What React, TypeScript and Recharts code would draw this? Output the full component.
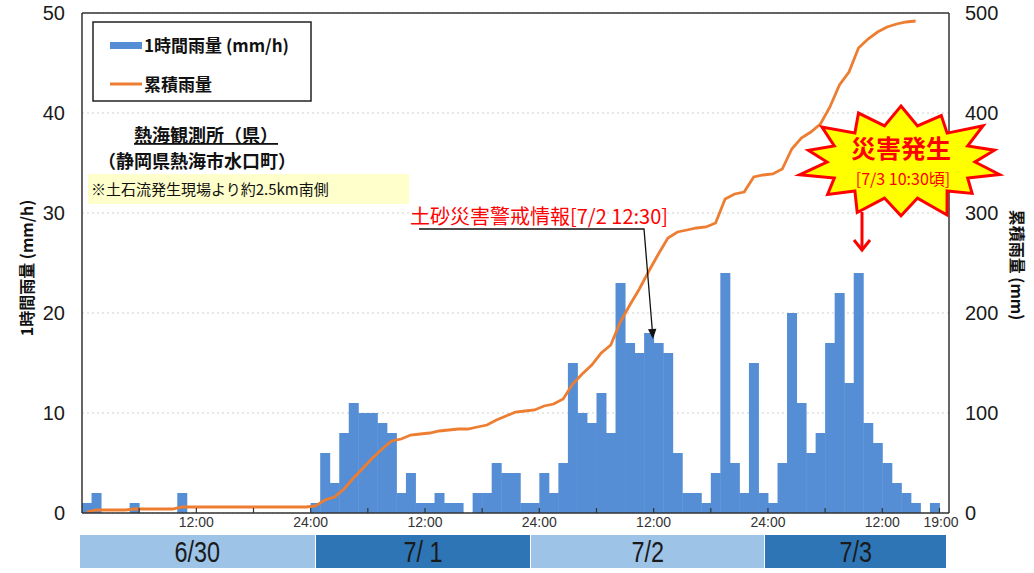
import { Bar, CartesianGrid, ComposedChart, Line, ReferenceLine, XAxis, YAxis } from 'recharts'

// 1時間ごとの雨量 (mm/h)  6/30 1:00 〜 7/3 19:00
const days = ['6/30', '7/1', '7/2', '7/3']
const hoursPerDay = [24, 24, 24, 19]
const dayLabels = ['6/30', '7/ 1', '7/2', '7/3']

const hourlyRain = [
	1, 2, 0, 0, 0, 1, 0, 0, 0, 0, 2, 0, 0, 0, 0, 0, 0, 0, 0, 0, 0, 0, 0, 0,
	1, 6, 3, 8, 11, 10, 10, 9, 8, 2, 4, 1, 1, 2, 1, 1, 0, 2, 2, 5, 4, 4, 1, 1,
	4, 2, 5, 15, 10, 9, 12, 8, 23, 17, 16, 18, 17, 16, 6, 2, 2, 1, 4, 24, 5, 2, 15, 2,
	1, 5, 20, 11, 6, 8, 17, 22, 13, 24, 9, 7, 5, 3, 2, 1, 0, 1, 0,
]

// 累積雨量 (mm)
const totalRain = [
	1, 3, 3, 3, 3, 4, 4, 4, 4, 4, 6, 6, 6, 6, 6, 6, 6, 6, 6, 6, 6, 6, 6, 6,
	7, 13, 16, 24, 35, 45, 55, 64, 72, 74, 78, 79, 80, 82, 83, 84, 84, 86, 88, 93, 97, 101, 102, 103,
	107, 109, 114, 129, 139, 148, 160, 168, 191, 208, 224, 242, 259, 275, 281, 283, 285, 286, 290, 314, 319, 321, 336, 338,
	339, 344, 364, 375, 381, 389, 406, 428, 441, 465, 474, 481, 486, 489, 491, 492, null, null, null,
]

const tickHours = [12, 24, 36, 48, 60, 72, 84, 91]
const tickLabels = ['12:00', '24:00', '12:00', '24:00', '12:00', '24:00', '12:00', '19:00']
const leftTicks = [0, 10, 20, 30, 40, 50]
const rightTicks = [0, 100, 200, 300, 400, 500]

const categories: string[] = []
days.forEach((d, i) => {
	for (let h = 1; h <= hoursPerDay[i]; h++) categories.push(`${d} ${h}時`)
})
const data = categories.map((hour, i) => ({
	hour,
	rain: hourlyRain[i],
	total: totalRain[i],
}))

const W = 1034
const H = 573
const PLOT_L = 82
const PLOT_R = 949
const BAND = (PLOT_R - PLOT_L) / categories.length
const DAY_EDGES = [80, 316, 531, 765, 946]
const JP = '"Noto Sans CJK JP", "Noto Sans", sans-serif'
const NUM = '"Liberation Sans", Arial, sans-serif'

const HourTick = (props: any) => {
	const { x, y, payload } = props
	const end = categories.indexOf(payload.value) + 1
	const k = tickHours.indexOf(end)
	if (end % 6 !== 0 && k < 0) return null
	const bx = x + BAND / 2
	const last = end === categories.length
	return (
		<g>
			{end % 6 === 0 && !last && <line x1={bx} x2={bx} y1={y} y2={y - 5} stroke='#333' strokeWidth={1.2} />}
			{k >= 0 && (
				<text x={last ? bx - 8 : bx} y={y + 14} textAnchor='middle' fontSize={14} fill='#333' fontFamily={NUM}>
					{tickLabels[k]}
				</text>
			)}
		</g>
	)
}

const starPoints = () => {
	const n = 14
	const cx = 901
	const cy = 162
	// 少し不揃いなトゲ
	const jag = [1, 0.92, 1.04, 0.95, 1, 0.9, 1.05, 0.96, 1, 0.93, 1.03, 0.94, 1, 0.97]
	const pts: string[] = []
	for (let i = 0; i < n * 2; i++) {
		const a = -Math.PI / 2 + (i * Math.PI) / n
		const outer = i % 2 === 0
		const f = outer ? jag[i / 2] : 1
		const rx = outer ? 101 * f : 74
		const ry = outer ? 56 * f : 37
		pts.push(`${(cx + rx * Math.cos(a)).toFixed(1)},${(cy + ry * Math.sin(a)).toFixed(1)}`)
	}
	return pts.join(' ')
}

const Overlay = () => (
	<svg width={W} height={H} style={{ position: 'absolute', left: 0, top: 0, pointerEvents: 'none' }}>
		{/* 凡例 */}
		<rect x={93} y={22} width={218} height={79} fill='#fff' stroke='#222' strokeWidth={1.5} />
		<rect x={110} y={42} width={32} height={7} fill='#558ED5' />
		<text x={144} y={52} fontSize={17} fontWeight={700} fontFamily={JP} fill='#111'>
			1時間雨量 (mm/h)
		</text>
		<line x1={110} x2={142} y1={84} y2={84} stroke='#ED7D31' strokeWidth={3} />
		<text x={144} y={91} fontSize={17} fontWeight={700} fontFamily={JP} fill='#111'>
			累積雨量
		</text>

		{/* 観測所 */}
		<text x={206} y={142} textAnchor='middle' fontSize={18} fontWeight={700} fontFamily={JP} fill='#111' style={{ textDecoration: 'underline' }}>
			熱海観測所（県）
		</text>
		<text x={197} y={168} textAnchor='middle' fontSize={18} fontWeight={700} fontFamily={JP} fill='#111'>
			（静岡県熱海市水口町）
		</text>
		<rect x={88} y={174} width={321} height={30} fill='#FFFFCC' />
		<text x={91} y={195} fontSize={15} fontFamily={JP} fill='#111'>
			※土石流発生現場より約2.5km南側
		</text>

		{/* 土砂災害警戒情報 */}
		<text x={410} y={224} fontSize={20} fontFamily={JP} fill='#FF0000'>
			土砂災害警戒情報[7/2 12:30]
		</text>
		<polyline points='419,229 644,229 652.2,329' fill='none' stroke='#111' strokeWidth={1.3} />
		<polygon points='653,339 656.4,328.7 648,329.3' fill='#111' />

		{/* 災害発生 */}
		<polygon points={starPoints()} fill='#FFFF00' stroke='#FF0000' strokeWidth={3} strokeLinejoin='miter' />
		<text x={901} y={158} textAnchor='middle' fontSize={25} fontWeight={700} fontFamily={JP} fill='#FF0000'>
			災害発生
		</text>
		<text x={903} y={185} textAnchor='middle' fontSize={16} fontFamily={JP} fill='#FF0000'>
			[7/3 10:30頃]
		</text>
		<line x1={862} x2={862} y1={212} y2={249} stroke='#FF0000' strokeWidth={3} />
		<polyline points='854,240 862,250 870,240' fill='none' stroke='#FF0000' strokeWidth={3} />

		{/* 軸タイトル */}
		<text x={0} y={0} transform='translate(33,268) rotate(-90)' textAnchor='middle' fontSize={16} fontWeight={700} fontFamily={JP} fill='#111'>
			1時間雨量 (mm/h)
		</text>
		<text x={0} y={0} transform='translate(1011,265) rotate(90)' textAnchor='middle' fontSize={16} fontWeight={700} fontFamily={JP} fill='#111'>
			累積雨量 (mm)
		</text>
	</svg>
)

const DayBand = () => (
	<div style={{ position: 'absolute', left: 0, top: 0, width: W, height: H, pointerEvents: 'none' }}>
		{dayLabels.map((label, i) => (
			<div
				key={label}
				style={{
					position: 'absolute',
					left: DAY_EDGES[i],
					top: 535,
					width: DAY_EDGES[i + 1] - DAY_EDGES[i] - (i < 3 ? 1 : 0),
					height: 33,
					background: i % 2 === 0 ? '#9DC3E6' : '#2E75B6',
					display: 'flex',
					alignItems: 'center',
					justifyContent: 'center',
				}}
			>
				<span
					style={{
						display: 'inline-block',
						transform: 'scaleX(0.78)',
						fontFamily: NUM,
						fontSize: 30,
						lineHeight: '33px',
						color: '#1a1a1a',
						whiteSpace: 'pre',
					}}
				>
					{label}
				</span>
			</div>
		))}
	</div>
)

const App = () => {
	return (
		<div style={{ position: 'absolute', left: 0, top: 0, width: W, height: H, background: '#fff' }}>
			<ComposedChart
				width={W}
				height={H}
				data={data}
				margin={{ top: 13, right: 0, bottom: 40, left: 0 }}
				barCategoryGap={0}
				barGap={0}
			>
				<CartesianGrid
					vertical={false}
					xAxisId='cat'
					yAxisId='left'
					stroke='#cfcfcf'
					strokeDasharray='2 3'
				/>
				<XAxis
					xAxisId='cat'
					dataKey='hour'
					interval={0}
					height={20}
					tickSize={0}
					tickMargin={0}
					tick={<HourTick />}
					axisLine={{ stroke: '#333', strokeWidth: 1.5 }}
				/>
				<YAxis
					yAxisId='left'
					orientation='left'
					width={PLOT_L}
					domain={[0, 50]}
					ticks={leftTicks}
					tickSize={0}
					tickMargin={17}
					tick={{ fontSize: 20, fill: '#1a1a1a', fontFamily: NUM }}
					axisLine={{ stroke: '#333', strokeWidth: 1.5 }}
				/>
				<YAxis
					yAxisId='right'
					orientation='right'
					width={W - PLOT_R}
					domain={[0, 500]}
					ticks={rightTicks}
					tickSize={0}
					tickMargin={16}
					tick={{ fontSize: 20, fill: '#1a1a1a', fontFamily: NUM, textAnchor: 'start' }}
					axisLine={{ stroke: '#333', strokeWidth: 1.5 }}
				/>
				<ReferenceLine yAxisId='left' xAxisId='cat' y={50} stroke='#333' strokeWidth={1.5} />
				<Bar
					xAxisId='cat'
					yAxisId='left'
					dataKey='rain'
					fill='#558ED5'
					isAnimationActive={false}
				/>
				<Line
					xAxisId='cat'
					yAxisId='right'
					dataKey='total'
					type='linear'
					stroke='#ED7D31'
					strokeWidth={2.8}
					dot={false}
					isAnimationActive={false}
				/>
			</ComposedChart>
			<DayBand />
			<Overlay />
		</div>
	)
}

export default App
